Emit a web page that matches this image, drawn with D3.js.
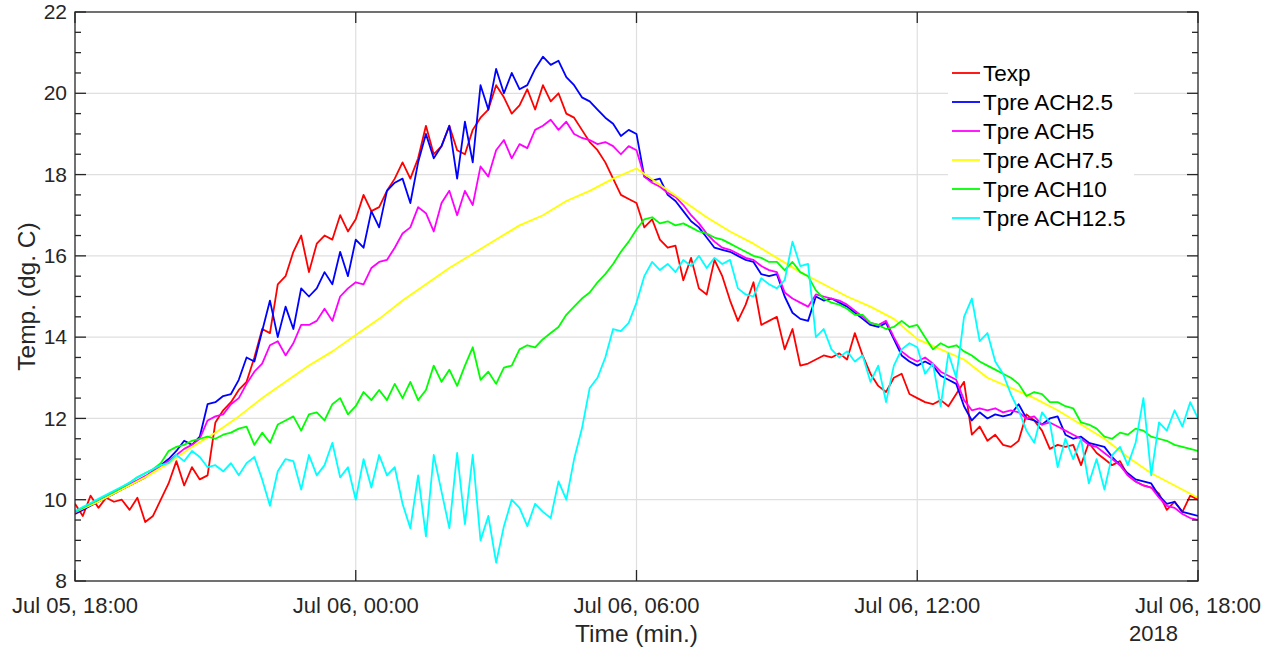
<!DOCTYPE html>
<html lang="en">
	<head>
		<meta charset="UTF-8">
		<title>Temperature</title>
		<script src="https://d3js.org/d3.v7.min.js"></script>
		<style type="text/css">
			body {
				margin: 0;
				background: #ffffff;
			}
			svg {
				display: block;
				font-family: "Liberation Sans", Arial, Helvetica, sans-serif;
			}
			.tick-label {
				font-size: 22px;
				fill: #262626;
			}
			.ytick-label {
				font-size: 21px;
				fill: #262626;
			}
			.axis-title {
				font-size: 24.5px;
				fill: #262626;
			}
			.legend-text {
				font-size: 22.5px;
				fill: #000000;
			}
		</style>
	</head>
	<body>
		<svg id="chart" width="1284" height="652"></svg>
		<script type="text/javascript">
			// series values, one reading every 10 min from Jul 05 18:00 to Jul 06 18:00
			const texp = [
				9.9, 9.6, 10.1, 9.8, 10.05, 9.95,
				10.0, 9.75, 10.05, 9.45, 9.6, 10.0,
				10.4, 10.95, 10.35, 10.8, 10.5, 10.6,
				11.9, 12.2, 12.4, 12.7, 12.9, 13.5,
				14.2, 14.1, 15.3, 15.5, 16.1, 16.5,
				15.6, 16.3, 16.5, 16.4, 17.0, 16.6,
				16.9, 17.5, 17.1, 17.2, 17.6, 17.9,
				18.3, 17.9, 18.4, 19.2, 18.5, 18.7,
				19.2, 18.6, 18.5, 19.1, 19.4, 19.6,
				20.2, 19.9, 19.5, 19.7, 20.1, 19.6,
				20.2, 19.8, 20.0, 19.5, 19.4, 19.1,
				18.8, 18.6, 18.3, 17.9, 17.5, 17.4,
				17.3, 16.7, 16.9, 16.4, 16.2, 16.25,
				15.4, 15.95, 15.2, 15.05, 15.9, 15.5,
				14.9, 14.4, 14.8, 15.35, 14.3, 14.4,
				14.5, 13.7, 14.2, 13.3, 13.35, 13.45,
				13.55, 13.5, 13.6, 13.45, 14.1, 13.55,
				13.1, 12.8, 12.65, 13.0, 13.1, 12.6,
				12.5, 12.4, 12.35, 12.45, 12.3, 12.6,
				12.9, 11.6, 11.8, 11.45, 11.6, 11.35,
				11.3, 11.45, 12.1, 11.95, 11.7, 11.25,
				11.35, 11.3, 11.35, 10.85, 11.4, 11.15,
				11.0, 10.85, 10.95, 10.6, 10.45, 10.35,
				10.3, 10.15, 9.75, 9.95, 9.7, 10.1,
				10.0
			];
			const ach25 = [
				9.65, 9.75, 9.85, 9.95, 10.05, 10.15,
				10.25, 10.35, 10.45, 10.55, 10.7, 10.85,
				11.0, 11.2, 11.45, 11.35, 11.55, 12.35,
				12.4, 12.55, 12.6, 12.95, 13.5, 13.4,
				14.15, 14.9, 14.0, 14.75, 14.2, 15.2,
				15.0, 15.2, 15.6, 15.3, 16.1, 15.5,
				16.4, 16.2, 17.1, 16.7, 17.6, 17.8,
				17.9, 17.3, 18.3, 19.0, 18.4, 18.7,
				19.2, 17.9, 19.3, 18.3, 20.2, 19.6,
				20.6, 20.0, 20.5, 20.1, 20.2, 20.6,
				20.9, 20.7, 20.8, 20.4, 20.2, 19.9,
				19.8, 19.6, 19.4, 19.25, 18.95, 19.1,
				19.0, 17.95, 17.85, 17.9, 17.5, 17.35,
				17.1, 16.85, 16.7, 16.45, 16.2, 16.15,
				16.1, 16.0, 15.9, 15.85, 15.55, 15.5,
				15.55, 15.0, 14.6, 14.45, 14.4, 15.0,
				14.9, 14.95, 14.85, 14.75, 14.6, 14.45,
				14.3, 14.25, 14.35, 13.95, 13.55, 13.4,
				13.3, 13.4, 13.3, 13.05, 12.95, 12.85,
				12.3, 11.95, 12.15, 12.0, 12.1, 12.05,
				12.1, 12.35, 12.0, 11.95, 11.85, 12.0,
				12.05, 11.6, 11.5, 11.55, 11.4, 11.35,
				11.3, 11.05, 10.85, 10.65, 10.5, 10.45,
				10.4, 10.1, 9.9, 9.95, 9.7, 9.65,
				9.6
			];
			const ach5 = [
				9.68, 9.78, 9.88, 9.98, 10.08, 10.18,
				10.28, 10.38, 10.48, 10.58, 10.7, 10.82,
				10.95, 11.1, 11.25, 11.35, 11.5, 11.95,
				12.05, 12.1, 12.35, 12.5, 12.85, 13.15,
				13.35, 13.8, 13.9, 13.55, 13.85, 14.3,
				14.3, 14.4, 14.7, 14.4, 15.0, 15.2,
				15.35, 15.3, 15.7, 15.85, 15.9, 16.2,
				16.55, 16.7, 17.2, 17.05, 16.6, 17.3,
				17.6, 17.0, 17.6, 17.25, 18.2, 17.95,
				18.6, 18.85, 18.4, 18.75, 18.65, 19.1,
				19.2, 19.35, 19.1, 19.3, 19.0, 18.9,
				18.85, 18.75, 18.8, 18.7, 18.5, 18.7,
				18.6, 17.95, 17.8, 17.7, 17.55, 17.45,
				17.25, 17.0, 16.8, 16.55, 16.35, 16.2,
				16.15, 16.05, 15.95, 15.9, 15.75, 15.65,
				15.6, 15.1, 14.95, 14.85, 14.75, 15.05,
				15.0, 14.95, 14.9, 14.8, 14.65, 14.5,
				14.35, 14.3, 14.4, 14.0, 13.65, 13.5,
				13.4, 13.5, 13.35, 13.15, 13.05, 12.95,
				12.45, 12.2, 12.25, 12.2, 12.25, 12.15,
				12.2, 12.15, 12.0, 12.05, 11.85, 11.9,
				11.8, 11.7, 11.6, 11.5, 11.35, 11.3,
				11.15, 11.0, 10.85, 10.6, 10.45, 10.35,
				10.3, 10.05, 9.85, 9.8, 9.65, 9.55,
				9.5
			];
			// ACH7.5 is smooth, one reading every 30 min
			const ach75 = [
				9.7, 9.95, 10.25, 10.55, 10.9, 11.3, 11.65, 12.05,
				12.5, 12.9, 13.3, 13.65, 14.05, 14.45, 14.9, 15.3,
				15.7, 16.05, 16.4, 16.75, 17.0, 17.35, 17.6, 17.9,
				18.15, 17.75, 17.35, 16.95, 16.6, 16.3, 15.95, 15.6,
				15.3, 15.0, 14.75, 14.45, 13.95, 13.7, 13.45, 13.0,
				12.75, 12.5, 12.2, 11.85, 11.5, 11.05, 10.65, 10.35,
				10.05
			];
			const ach10 = [
				9.7, 9.8, 9.9, 10.0, 10.1, 10.2,
				10.3, 10.42, 10.55, 10.65, 10.75, 10.9,
				11.2, 11.3, 11.35, 11.45, 11.5, 11.55,
				11.5, 11.6, 11.65, 11.75, 11.8, 11.35,
				11.65, 11.4, 11.85, 11.95, 12.05, 11.7,
				12.1, 12.15, 11.95, 12.35, 12.5, 12.1,
				12.3, 12.65, 12.45, 12.7, 12.45, 12.85,
				12.5, 12.9, 12.45, 12.7, 13.3, 12.9,
				13.2, 12.8, 13.3, 13.75, 12.95, 13.15,
				12.85, 13.25, 13.3, 13.7, 13.8, 13.75,
				13.95, 14.1, 14.25, 14.55, 14.75, 14.95,
				15.1, 15.35, 15.55, 15.8, 16.1, 16.35,
				16.65, 16.9, 16.95, 16.8, 16.85, 16.75,
				16.8, 16.7, 16.6, 16.55, 16.45, 16.4,
				16.3, 16.2, 16.1, 16.0, 15.95, 15.85,
				15.85, 15.65, 15.85, 15.6, 15.5, 15.15,
				14.95, 14.85, 14.8, 14.7, 14.55, 14.55,
				14.35, 14.3, 14.2, 14.25, 14.4, 14.25,
				14.3, 14.0, 13.7, 13.85, 13.75, 13.8,
				13.65, 13.55, 13.4, 13.3, 13.2, 13.1,
				13.0, 12.85, 12.55, 12.65, 12.6, 12.4,
				12.4, 12.3, 12.25, 11.9, 11.85, 11.75,
				11.55, 11.5, 11.65, 11.6, 11.75, 11.7,
				11.55, 11.5, 11.45, 11.35, 11.3, 11.25,
				11.2
			];
			const ach125 = [
				9.72, 9.82, 9.92, 10.02, 10.12, 10.22,
				10.32, 10.42, 10.55, 10.65, 10.75, 10.85,
				10.9, 11.1, 10.95, 11.2, 11.05, 10.8,
				10.85, 10.7, 10.9, 10.6, 10.9, 11.05,
				10.5, 9.85, 10.7, 11.0, 10.95, 10.25,
				11.1, 10.6, 10.85, 11.4, 10.55, 10.8,
				10.0, 11.0, 10.3, 11.1, 10.6, 10.8,
				9.9, 9.3, 10.6, 9.1, 11.1, 10.2,
				9.3, 11.15, 9.4, 11.1, 9.0, 9.6,
				8.45, 9.35, 10.0, 9.8, 9.35, 9.9,
				9.7, 9.55, 10.45, 10.0, 11.0, 11.75,
				12.75, 13.0, 13.5, 14.2, 14.15, 14.35,
				14.85, 15.5, 15.85, 15.65, 15.8, 15.6,
				15.9, 15.75, 16.0, 15.7, 15.95, 15.8,
				15.9, 15.2, 15.05, 15.0, 15.45, 15.3,
				15.2, 15.4, 16.35, 15.75, 15.8, 14.0,
				14.2, 13.7, 13.5, 13.65, 13.4, 13.55,
				12.9, 13.3, 12.4, 13.3, 13.7, 13.85,
				13.75, 13.1, 13.35, 12.3, 13.6, 13.0,
				14.5, 14.95, 13.9, 14.1, 13.4, 13.1,
				12.6, 12.2, 11.7, 11.4, 12.15, 11.9,
				10.8, 11.5, 11.0, 11.5, 10.4, 11.0,
				10.25, 11.1, 11.3, 10.85, 11.4, 12.5,
				10.6, 11.9, 11.7, 12.2, 11.8, 12.4,
				12.0
			];

			const seriesNames = ["Texp", "Tpre ACH2.5", "Tpre ACH5", "Tpre ACH7.5", "Tpre ACH10", "Tpre ACH12.5"];
			const seriesColors = ["#ff0000", "#0000ff", "#ff00ff", "#ffff00", "#00ff00", "#00ffff"];
			const seriesValues = [texp, ach25, ach5, ach75, ach10, ach125];

			const yTicks = [8, 10, 12, 14, 16, 18, 20, 22];
			const xTickHours = [0, 6, 12, 18, 24];

			const w = 1284;
			const h = 652;
			const pLeft = 75, pRight = 1198, pTop = 12, pBottom = 581;
			const axisColor = "#262626";

			const t0 = new Date(2018, 6, 5, 18, 0, 0);
			const t1 = new Date(2018, 6, 6, 18, 0, 0);
			const hour = 3600 * 1000;

			const x = d3.scaleTime().domain([t0, t1]).range([pLeft, pRight]);
			const y = d3.scaleLinear().domain([8, 22]).range([pBottom, pTop]);

			const svg = d3.select("#chart");
			svg.append("rect").attr("width", w).attr("height", h).attr("fill", "#ffffff");

			//grid
			const grid = svg.append("g");
			grid.selectAll("line.gy")
				.data(yTicks.slice(1, -1))
				.enter()
				.append("line")
				.attr("x1", pLeft).attr("x2", pRight)
				.attr("y1", d => y(d)).attr("y2", d => y(d))
				.attr("stroke", "#dfdfdf").attr("stroke-width", 1.2);
			grid.selectAll("line.gx")
				.data(xTickHours.slice(1, -1))
				.enter()
				.append("line")
				.attr("x1", d => x(new Date(+t0 + d * hour))).attr("x2", d => x(new Date(+t0 + d * hour)))
				.attr("y1", pTop).attr("y2", pBottom)
				.attr("stroke", "#dfdfdf").attr("stroke-width", 1.2);

			svg.append("clipPath").attr("id", "plotclip")
				.append("rect").attr("x", pLeft).attr("y", pTop)
				.attr("width", pRight - pLeft).attr("height", pBottom - pTop);

			//lines
			const line = d3.line().x(d => x(d.t)).y(d => y(d.v));
			const plot = svg.append("g").attr("clip-path", "url(#plotclip)");
			seriesValues.forEach((vals, k) => {
				const step = 24 * hour / (vals.length - 1);
				const pts = vals.map((v, i) => ({t: new Date(+t0 + i * step), v: v}));
				plot.append("path")
					.datum(pts)
					.attr("fill", "none")
					.attr("stroke", seriesColors[k])
					.attr("stroke-width", 1.8)
					.attr("stroke-linejoin", "round")
					.attr("d", line);
			});

			//axes box and ticks
			const ax = svg.append("g").attr("stroke", axisColor).attr("stroke-width", 1.3);
			ax.append("rect").attr("x", pLeft).attr("y", pTop)
				.attr("width", pRight - pLeft).attr("height", pBottom - pTop)
				.attr("fill", "none");
			const minorY = d3.range(8, 22.01, 0.5);
			minorY.forEach(v => {
				const len = (v % 2 === 0) ? 11 : 6;
				ax.append("line").attr("x1", pLeft).attr("x2", pLeft + len).attr("y1", y(v)).attr("y2", y(v));
				ax.append("line").attr("x1", pRight).attr("x2", pRight - len).attr("y1", y(v)).attr("y2", y(v));
			});
			xTickHours.forEach(hh => {
				const px = x(new Date(+t0 + hh * hour));
				ax.append("line").attr("x1", px).attr("x2", px).attr("y1", pBottom).attr("y2", pBottom - 11);
				ax.append("line").attr("x1", px).attr("x2", px).attr("y1", pTop).attr("y2", pTop + 11);
			});

			//tick labels
			svg.selectAll("text.yl")
				.data(yTicks)
				.enter()
				.append("text")
				.attr("class", "ytick-label")
				.attr("x", pLeft - 8)
				.attr("y", d => y(d))
				.attr("dy", "0.34em")
				.attr("text-anchor", "end")
				.text(d => d);
			const fmt = d3.timeFormat("%b %d, %H:%M");
			svg.selectAll("text.xl")
				.data(xTickHours)
				.enter()
				.append("text")
				.attr("class", "tick-label")
				.attr("x", d => x(new Date(+t0 + d * hour)))
				.attr("y", 613)
				.attr("text-anchor", "middle")
				.text(d => fmt(new Date(+t0 + d * hour)));
			svg.append("text").attr("class", "tick-label")
				.attr("x", 1178).attr("y", 641).attr("text-anchor", "end").text("2018");

			svg.append("text").attr("class", "axis-title")
				.attr("x", (pLeft + pRight) / 2).attr("y", 642)
				.attr("text-anchor", "middle").text("Time (min.)");
			svg.append("text").attr("class", "axis-title")
				.attr("transform", "translate(35," + ((pTop + pBottom) / 2) + ") rotate(-90)")
				.attr("text-anchor", "middle").text("Temp. (dg. C)");

			//legend
			const lg = svg.append("g");
			lg.append("rect").attr("x", 948).attr("y", 57).attr("width", 186).attr("height", 177).attr("fill", "#ffffff");
			seriesNames.forEach((name, i) => {
				const ly = 73 + i * 29;
				lg.append("line").attr("x1", 952).attr("x2", 980).attr("y1", ly).attr("y2", ly)
					.attr("stroke", seriesColors[i]).attr("stroke-width", 1.8);
				lg.append("text").attr("class", "legend-text")
					.attr("x", 983).attr("y", ly).attr("dy", "0.36em").text(name);
			});
		</script>
	</body>
</html>
